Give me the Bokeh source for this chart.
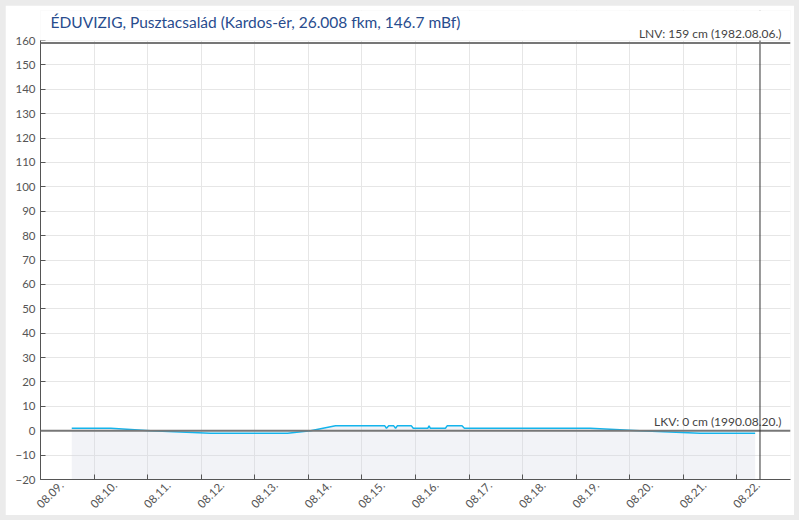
import pandas as pd
from math import pi
from bokeh.plotting import figure
from bokeh.layouts import column
from bokeh.models import (Range1d, FixedTicker, Span, Label, DatetimeAxis, BoxAnnotation,
                          ColumnDataSource, CustomJSTickFormatter)
from bokeh.embed import file_html
from bokeh.resources import INLINE

# ---------------- data ----------------
title_text = "ÉDUVIZIG, Pusztacsalád (Kardos-ér, 26.008 fkm, 146.7 mBf)"

times = ["2024-08-09 14:00", "2024-08-10 07:30", "2024-08-11 01:20", "2024-08-12 04:10",
         "2024-08-13 14:40", "2024-08-14 01:00", "2024-08-14 12:10", "2024-08-15 10:15",
         "2024-08-15 11:00", "2024-08-15 12:00", "2024-08-15 14:15", "2024-08-15 15:05",
         "2024-08-15 15:50", "2024-08-15 22:10", "2024-08-15 23:00", "2024-08-16 05:30",
         "2024-08-16 06:05", "2024-08-16 06:40", "2024-08-16 13:25", "2024-08-16 14:10",
         "2024-08-16 20:50", "2024-08-16 21:55", "2024-08-19 06:15", "2024-08-20 04:30",
         "2024-08-21 07:30", "2024-08-22 08:10"]
levels = [1, 1, 0, -1,
          -1, 0, 2, 2,
          1, 2, 2, 1,
          2, 2, 1, 1,
          2, 1, 1, 2,
          2, 1, 1, 0,
          -1, -1]

tick_dates = ["2024-08-09", "2024-08-10", "2024-08-11", "2024-08-12", "2024-08-13",
              "2024-08-14", "2024-08-15", "2024-08-16", "2024-08-17", "2024-08-18",
              "2024-08-19", "2024-08-20", "2024-08-21", "2024-08-22"]
tick_labels = ["08.09.", "08.10.", "08.11.", "08.12.", "08.13.", "08.14.", "08.15.",
               "08.16.", "08.17.", "08.18.", "08.19.", "08.20.", "08.21.", "08.22."]
y_ticks = [-20, -10, 0, 10, 20, 30, 40, 50, 60, 70, 80, 90, 100, 110, 120, 130, 140, 150, 160]

x_start = "2024-08-09 00:00"
x_end = "2024-08-23 00:00"
y_min, y_max = -20, 160

lnv_value = 159
lnv_text = "LNV: 159 cm (1982.08.06.)"
lkv_value = 0
lkv_text = "LKV: 0 cm (1990.08.20.)"
now_time = "2024-08-22 10:20"

# ---------------- layout constants (pixels in the figure canvas) ----------------
FONT = "Lato"
W, H = 789, 510
BORDER_TOP, BORDER_BOTTOM = 5, 36
TOP_OF_SCALE = 35            # canvas y where y_max sits; the header lives above it
frame_bottom = H - BORDER_BOTTOM
px_per_unit = (frame_bottom - TOP_OF_SCALE) / (y_max - y_min)
y_frame_top = y_max + (TOP_OF_SCALE - BORDER_TOP) / px_per_unit

t = pd.to_datetime(times)
src = ColumnDataSource(dict(t=t, v=levels, base=[y_min] * len(levels)))

def ms(s):
    return pd.Timestamp(s).value / 1e6

p = figure(width=W, height=H, x_axis_type="datetime",
           x_range=Range1d(pd.Timestamp(x_start), pd.Timestamp(x_end)),
           y_range=Range1d(y_min, y_frame_top),
           output_backend="svg", toolbar_location=None,
           min_border_left=35, min_border_right=4, min_border_top=BORDER_TOP,
           min_border_bottom=BORDER_BOTTOM)
p.background_fill_color = "#ffffff"
p.border_fill_color = "#ffffff"
p.outline_line_color = None

# area + line
p.varea(x="t", y1="base", y2="v", source=src, fill_color="#d4d7e4", fill_alpha=0.3)
p.line(x="t", y="v", source=src, line_color="#14b4ec", line_width=1.5)

# x axis: tick marks only
tick_ms = [ms(d) for d in tick_dates]
main_x = p.xaxis[0]
main_x.ticker = FixedTicker(ticks=tick_ms)
main_x.formatter = CustomJSTickFormatter(code="return ''")
main_x.major_tick_in = 5
main_x.major_tick_out = 0
main_x.major_label_standoff = 0
main_x.major_label_text_font_size = "1px"
main_x.minor_tick_line_color = None
main_x.axis_line_color = "#555555"
main_x.major_tick_line_color = "#555555"

# x axis labels: rotated, shifted right of their ticks (like the reference)
shift = pd.Timedelta(hours=9.4)
p.extra_x_ranges = {"lbl": Range1d(pd.Timestamp(x_start) - shift, pd.Timestamp(x_end) - shift)}
lbl_axis = DatetimeAxis(x_range_name="lbl", ticker=FixedTicker(ticks=tick_ms),
                        formatter=CustomJSTickFormatter(args=dict(labels=tick_labels),
                                                        code="return labels[index]"))
lbl_axis.axis_line_color = None
lbl_axis.major_tick_line_color = None
lbl_axis.minor_tick_line_color = None
lbl_axis.major_tick_in = 0
lbl_axis.major_tick_out = 0
lbl_axis.major_label_orientation = pi / 4
lbl_axis.major_label_standoff = 4
lbl_axis.major_label_text_font = FONT
lbl_axis.major_label_text_font_size = "11.5px"
lbl_axis.major_label_text_color = "#555555"
p.add_layout(lbl_axis, "below")

# y axis (line stops at y_max)
p.yaxis.ticker = FixedTicker(ticks=y_ticks)
p.yaxis.bounds = (y_min, y_max)
p.yaxis.major_tick_in = 5
p.yaxis.major_tick_out = 0
p.yaxis.minor_tick_line_color = None
p.yaxis.axis_line_color = "#555555"
p.yaxis.major_tick_line_color = "#555555"
p.yaxis.major_label_text_font = FONT
p.yaxis.major_label_text_font_size = "11.5px"
p.yaxis.major_label_text_color = "#555555"
p.yaxis.major_label_standoff = 5

p.xgrid.ticker = FixedTicker(ticks=tick_ms + [ms(x_end)])
p.xgrid.grid_line_color = "#e6e6e6"
p.ygrid.grid_line_color = "#e6e6e6"

# reference lines
p.add_layout(Span(location=lkv_value, dimension="width", line_color="#777777", line_width=2))
p.add_layout(Span(location=ms(now_time), dimension="height", line_color="#333333", line_width=1))

# header strip above the scale (white), then the LNV line and the texts
p.add_layout(BoxAnnotation(bottom=y_max, fill_color="#ffffff", fill_alpha=1.0,
                           line_color=None))
p.add_layout(Span(location=lnv_value, dimension="width", line_color="#777777", line_width=2))

p.add_layout(Label(x=pd.Timestamp(x_end), y=lnv_value, text=lnv_text, text_align="right",
                   text_baseline="alphabetic", x_offset=-9, y_offset=9.5,
                   text_font=FONT, text_font_size="12px", text_color="#444444"))
p.add_layout(Label(x=pd.Timestamp(x_end), y=lkv_value, text=lkv_text, text_align="right",
                   text_baseline="alphabetic", x_offset=-9, y_offset=9.5,
                   text_font=FONT, text_font_size="12px", text_color="#444444"))
p.add_layout(Label(x=pd.Timestamp(x_start), y=y_max, text=title_text, text_align="left",
                   text_baseline="alphabetic", x_offset=10, y_offset=19,
                   text_font=FONT, text_font_size="15.5px", text_color="#284c8e"))

layout = column(p, styles={"background-color": "#ebebeb", "padding": "5px"})
open("out.html", "w").write(file_html(layout, INLINE))
